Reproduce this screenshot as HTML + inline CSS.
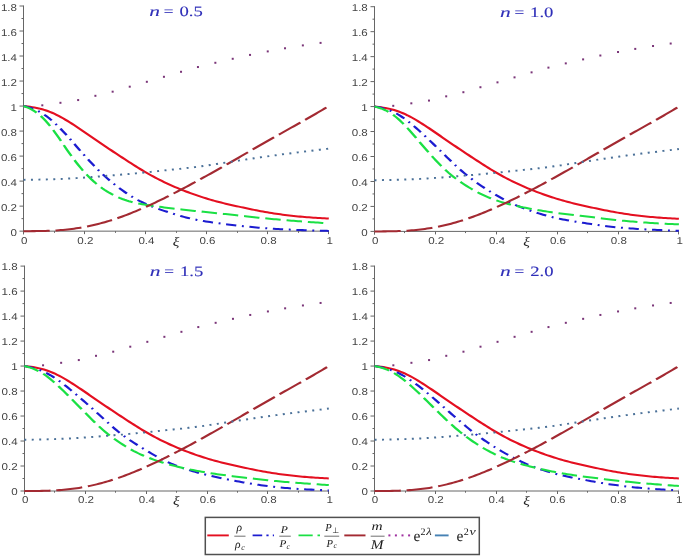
<!DOCTYPE html><html><head><meta charset="utf-8"><title>plot</title><style>html,body{margin:0;padding:0;background:#fff}svg{display:block}text{font-family:"Liberation Sans",sans-serif}text.s,.s text{font-family:"Liberation Serif",serif}</style></head><body>
<svg width="685" height="556" viewBox="0 0 685 556">
<rect width="100%" height="100%" fill="#fff"/><g style="will-change:transform;text-rendering:geometricPrecision">
<g stroke="#666" stroke-width="1" fill="none">
<path d="M23.50,5.50 V234.45"/>
<path d="M19.50,231.15 H329.00"/>
<path d="M23.50,218.64 h-2.00"/>
<path d="M23.50,206.13 h-4.00"/>
<path d="M23.50,193.62 h-2.00"/>
<path d="M23.50,181.12 h-4.00"/>
<path d="M23.50,168.61 h-2.00"/>
<path d="M23.50,156.10 h-4.00"/>
<path d="M23.50,143.59 h-2.00"/>
<path d="M23.50,131.08 h-4.00"/>
<path d="M23.50,118.58 h-2.00"/>
<path d="M23.50,106.07 h-4.00"/>
<path d="M23.50,93.56 h-2.00"/>
<path d="M23.50,81.05 h-4.00"/>
<path d="M23.50,68.54 h-2.00"/>
<path d="M23.50,56.03 h-4.00"/>
<path d="M23.50,43.53 h-2.00"/>
<path d="M23.50,31.02 h-4.00"/>
<path d="M23.50,18.51 h-2.00"/>
<path d="M23.50,6.00 h-4.00"/>
<path d="M54.50,231.15 v1.70"/>
<path d="M84.50,231.15 v3.00"/>
<path d="M115.50,231.15 v1.70"/>
<path d="M145.50,231.15 v3.00"/>
<path d="M176.50,231.15 v1.70"/>
<path d="M206.50,231.15 v3.00"/>
<path d="M237.50,231.15 v1.70"/>
<path d="M267.50,231.15 v3.00"/>
<path d="M298.50,231.15 v1.70"/>
<path d="M328.50,231.15 v3.00"/>
</g>
<g fill="#444" font-size="12.3">
<text transform="translate(17.00,235.70) scale(0.94,0.8104)" text-anchor="end">0</text>
<text transform="translate(17.00,210.68) scale(0.94,0.8104)" text-anchor="end">0.2</text>
<text transform="translate(17.00,185.67) scale(0.94,0.8104)" text-anchor="end">0.4</text>
<text transform="translate(17.00,160.65) scale(0.94,0.8104)" text-anchor="end">0.6</text>
<text transform="translate(17.00,135.63) scale(0.94,0.8104)" text-anchor="end">0.8</text>
<text transform="translate(17.00,110.62) scale(0.94,0.8104)" text-anchor="end">1</text>
<text transform="translate(17.00,85.60) scale(0.94,0.8104)" text-anchor="end">1.2</text>
<text transform="translate(17.00,60.58) scale(0.94,0.8104)" text-anchor="end">1.4</text>
<text transform="translate(17.00,35.57) scale(0.94,0.8104)" text-anchor="end">1.6</text>
<text transform="translate(17.00,10.55) scale(0.94,0.8104)" text-anchor="end">1.8</text>
<text transform="translate(24.30,243.95) scale(0.94,0.8104)" text-anchor="middle">0</text>
<text transform="translate(85.36,243.95) scale(0.94,0.8104)" text-anchor="middle">0.2</text>
<text transform="translate(146.42,243.95) scale(0.94,0.8104)" text-anchor="middle">0.4</text>
<text transform="translate(207.48,243.95) scale(0.94,0.8104)" text-anchor="middle">0.6</text>
<text transform="translate(268.54,243.95) scale(0.94,0.8104)" text-anchor="middle">0.8</text>
<text transform="translate(329.60,243.95) scale(0.94,0.8104)" text-anchor="middle">1</text>
</g>
<text transform="translate(175.95,245.55) scale(1,0.8104)" text-anchor="middle" font-size="15.5" font-style="italic" fill="#222" class="s">ξ</text>
<g fill="#2e2eb8" stroke="#2e2eb8" stroke-width="0.15" font-size="17.6" class="s">
<text transform="translate(149.35,15.80) scale(1.22,0.8104)" font-style="italic">n</text>
<text transform="translate(163.85,15.80) scale(0.98,0.8104)">=</text>
<text transform="translate(179.55,15.80) scale(1.06,0.8104)">0.5</text>
</g>
<g transform="scale(1,0.81037)" fill="none" stroke-width="2.5" stroke-linejoin="round">
<path d="M23.50,130.86 L25.70,131.15 L27.89,131.47 L30.09,131.81 L32.29,132.20 L34.48,132.65 L36.68,133.17 L38.87,133.77 L41.07,134.45 L43.27,135.21 L45.46,136.07 L47.66,137.01 L49.86,138.04 L52.05,139.15 L54.25,140.35 L56.45,141.63 L58.64,143.00 L60.84,144.44 L63.04,145.95 L65.23,147.53 L67.43,149.16 L69.62,150.83 L71.82,152.55 L74.02,154.30 L76.21,156.08 L78.41,157.89 L80.61,159.71 L82.80,161.56 L85.00,163.41 L87.20,165.27 L89.39,167.14 L91.59,169.01 L93.78,170.88 L95.98,172.75 L98.18,174.61 L100.37,176.46 L102.57,178.30 L104.77,180.14 L106.96,181.96 L109.16,183.78 L111.36,185.58 L113.55,187.38 L115.75,189.18 L117.95,190.97 L120.14,192.75 L122.34,194.53 L124.53,196.30 L126.73,198.06 L128.93,199.81 L131.12,201.55 L133.32,203.28 L135.52,204.99 L137.71,206.68 L139.91,208.35 L142.11,210.00 L144.30,211.61 L146.50,213.19 L148.69,214.74 L150.89,216.26 L153.09,217.74 L155.28,219.18 L157.48,220.59 L159.68,221.97 L161.87,223.32 L164.07,224.64 L166.27,225.93 L168.46,227.18 L170.66,228.41 L172.86,229.61 L175.05,230.79 L177.25,231.94 L179.44,233.06 L181.64,234.15 L183.84,235.22 L186.03,236.27 L188.23,237.29 L190.43,238.30 L192.62,239.27 L194.82,240.23 L197.02,241.17 L199.21,242.08 L201.41,242.97 L203.61,243.84 L205.80,244.69 L208.00,245.51 L210.19,246.31 L212.39,247.09 L214.59,247.85 L216.78,248.59 L218.98,249.30 L221.18,249.99 L223.37,250.66 L225.57,251.32 L227.77,251.96 L229.96,252.58 L232.16,253.20 L234.35,253.81 L236.55,254.41 L238.75,255.00 L240.94,255.59 L243.14,256.17 L245.34,256.75 L247.53,257.32 L249.73,257.88 L251.93,258.44 L254.12,258.99 L256.32,259.53 L258.52,260.06 L260.71,260.57 L262.91,261.07 L265.10,261.56 L267.30,262.02 L269.50,262.48 L271.69,262.91 L273.89,263.33 L276.09,263.74 L278.28,264.13 L280.48,264.51 L282.68,264.87 L284.87,265.22 L287.07,265.56 L289.26,265.88 L291.46,266.19 L293.66,266.49 L295.85,266.78 L298.05,267.05 L300.25,267.31 L302.44,267.55 L304.64,267.79 L306.84,268.01 L309.03,268.21 L311.23,268.41 L313.43,268.60 L315.62,268.77 L317.82,268.94 L320.01,269.09 L322.21,269.24 L324.41,269.39 L326.60,269.53 L328.80,269.67" stroke="#e40f20"/>
<path d="M23.50,130.81 L25.70,131.48 L27.89,132.20 L30.09,133.01 L32.29,133.92 L34.48,134.97 L36.68,136.17 L38.87,137.52 L41.07,139.03 L43.27,140.70 L45.46,142.53 L47.66,144.52 L49.86,146.66 L52.05,148.93 L54.25,151.32 L56.45,153.83 L58.64,156.45 L60.84,159.18 L63.04,161.99 L65.23,164.89 L67.43,167.86 L69.62,170.90 L71.82,173.99 L74.02,177.11 L76.21,180.24 L78.41,183.36 L80.61,186.46 L82.80,189.53 L85.00,192.57 L87.20,195.56 L89.39,198.50 L91.59,201.38 L93.78,204.20 L95.98,206.96 L98.18,209.65 L100.37,212.28 L102.57,214.84 L104.77,217.33 L106.96,219.75 L109.16,222.11 L111.36,224.39 L113.55,226.62 L115.75,228.78 L117.95,230.87 L120.14,232.90 L122.34,234.88 L124.53,236.79 L126.73,238.64 L128.93,240.41 L131.12,242.11 L133.32,243.74 L135.52,245.30 L137.71,246.79 L139.91,248.20 L142.11,249.54 L144.30,250.81 L146.50,252.01 L148.69,253.17 L150.89,254.27 L153.09,255.33 L155.28,256.36 L157.48,257.35 L159.68,258.31 L161.87,259.24 L164.07,260.15 L166.27,261.04 L168.46,261.92 L170.66,262.79 L172.86,263.64 L175.05,264.47 L177.25,265.28 L179.44,266.07 L181.64,266.84 L183.84,267.58 L186.03,268.29 L188.23,268.97 L190.43,269.62 L192.62,270.24 L194.82,270.83 L197.02,271.38 L199.21,271.90 L201.41,272.38 L203.61,272.84 L205.80,273.28 L208.00,273.69 L210.19,274.09 L212.39,274.48 L214.59,274.85 L216.78,275.22 L218.98,275.57 L221.18,275.92 L223.37,276.26 L225.57,276.60 L227.77,276.93 L229.96,277.25 L232.16,277.57 L234.35,277.88 L236.55,278.19 L238.75,278.50 L240.94,278.79 L243.14,279.08 L245.34,279.37 L247.53,279.65 L249.73,279.92 L251.93,280.18 L254.12,280.44 L256.32,280.69 L258.52,280.93 L260.71,281.16 L262.91,281.38 L265.10,281.59 L267.30,281.79 L269.50,281.98 L271.69,282.16 L273.89,282.33 L276.09,282.50 L278.28,282.65 L280.48,282.80 L282.68,282.94 L284.87,283.08 L287.07,283.21 L289.26,283.33 L291.46,283.45 L293.66,283.56 L295.85,283.67 L298.05,283.78 L300.25,283.88 L302.44,283.98 L304.64,284.08 L306.84,284.17 L309.03,284.25 L311.23,284.33 L313.43,284.41 L315.62,284.49 L317.82,284.56 L320.01,284.64 L322.21,284.71 L324.41,284.78 L326.60,284.86 L328.80,284.93" stroke="#1c1cd0" stroke-dasharray="10.3 5.65 1.95 5.65"/>
<path d="M23.50,130.76 L25.70,131.81 L27.89,132.91 L30.09,134.15 L32.29,135.56 L34.48,137.18 L36.68,139.04 L38.87,141.13 L41.07,143.47 L43.27,146.05 L45.46,148.87 L47.66,151.91 L49.86,155.15 L52.05,158.60 L54.25,162.21 L56.45,165.96 L58.64,169.82 L60.84,173.74 L63.04,177.71 L65.23,181.66 L67.43,185.57 L69.62,189.42 L71.82,193.17 L74.02,196.81 L76.21,200.35 L78.41,203.76 L80.61,207.05 L82.80,210.21 L85.00,213.23 L87.20,216.12 L89.39,218.86 L91.59,221.47 L93.78,223.95 L95.98,226.29 L98.18,228.50 L100.37,230.59 L102.57,232.56 L104.77,234.42 L106.96,236.16 L109.16,237.79 L111.36,239.32 L113.55,240.75 L115.75,242.08 L117.95,243.32 L120.14,244.47 L122.34,245.53 L124.53,246.52 L126.73,247.43 L128.93,248.26 L131.12,249.03 L133.32,249.73 L135.52,250.38 L137.71,250.97 L139.91,251.52 L142.11,252.02 L144.30,252.49 L146.50,252.93 L148.69,253.34 L150.89,253.74 L153.09,254.13 L155.28,254.50 L157.48,254.87 L159.68,255.23 L161.87,255.57 L164.07,255.92 L166.27,256.25 L168.46,256.58 L170.66,256.90 L172.86,257.22 L175.05,257.54 L177.25,257.85 L179.44,258.16 L181.64,258.46 L183.84,258.77 L186.03,259.07 L188.23,259.37 L190.43,259.66 L192.62,259.96 L194.82,260.25 L197.02,260.54 L199.21,260.83 L201.41,261.12 L203.61,261.41 L205.80,261.69 L208.00,261.98 L210.19,262.26 L212.39,262.54 L214.59,262.82 L216.78,263.09 L218.98,263.37 L221.18,263.65 L223.37,263.93 L225.57,264.22 L227.77,264.50 L229.96,264.79 L232.16,265.07 L234.35,265.36 L236.55,265.66 L238.75,265.95 L240.94,266.24 L243.14,266.54 L245.34,266.83 L247.53,267.13 L249.73,267.42 L251.93,267.71 L254.12,268.00 L256.32,268.28 L258.52,268.57 L260.71,268.85 L262.91,269.12 L265.10,269.39 L267.30,269.66 L269.50,269.93 L271.69,270.19 L273.89,270.44 L276.09,270.69 L278.28,270.94 L280.48,271.18 L282.68,271.42 L284.87,271.65 L287.07,271.88 L289.26,272.10 L291.46,272.32 L293.66,272.54 L295.85,272.75 L298.05,272.95 L300.25,273.16 L302.44,273.36 L304.64,273.55 L306.84,273.75 L309.03,273.94 L311.23,274.13 L313.43,274.31 L315.62,274.50 L317.82,274.68 L320.01,274.87 L322.21,275.05 L324.41,275.23 L326.60,275.41 L328.80,275.59" stroke="#1ae044" stroke-dasharray="15.5 5.9"/>
<path d="M23.50,285.24 L25.70,285.24 L27.89,285.24 L30.09,285.23 L32.29,285.22 L34.48,285.20 L36.68,285.18 L38.87,285.15 L41.07,285.10 L43.27,285.04 L45.46,284.97 L47.66,284.88 L49.86,284.77 L52.05,284.65 L54.25,284.51 L56.45,284.35 L58.64,284.16 L60.84,283.95 L63.04,283.72 L65.23,283.47 L67.43,283.19 L69.62,282.88 L71.82,282.55 L74.02,282.19 L76.21,281.80 L78.41,281.39 L80.61,280.95 L82.80,280.48 L85.00,279.98 L87.20,279.45 L89.39,278.89 L91.59,278.30 L93.78,277.69 L95.98,277.04 L98.18,276.37 L100.37,275.67 L102.57,274.94 L104.77,274.18 L106.96,273.39 L109.16,272.57 L111.36,271.73 L113.55,270.86 L115.75,269.96 L117.95,269.03 L120.14,268.08 L122.34,267.11 L124.53,266.11 L126.73,265.08 L128.93,264.03 L131.12,262.96 L133.32,261.87 L135.52,260.76 L137.71,259.63 L139.91,258.47 L142.11,257.30 L144.30,256.11 L146.50,254.91 L148.69,253.68 L150.89,252.44 L153.09,251.19 L155.28,249.91 L157.48,248.63 L159.68,247.33 L161.87,246.01 L164.07,244.68 L166.27,243.34 L168.46,241.98 L170.66,240.62 L172.86,239.24 L175.05,237.85 L177.25,236.45 L179.44,235.04 L181.64,233.62 L183.84,232.19 L186.03,230.75 L188.23,229.30 L190.43,227.85 L192.62,226.39 L194.82,224.92 L197.02,223.44 L199.21,221.96 L201.41,220.47 L203.61,218.97 L205.80,217.47 L208.00,215.97 L210.19,214.46 L212.39,212.94 L214.59,211.42 L216.78,209.90 L218.98,208.37 L221.18,206.83 L223.37,205.29 L225.57,203.75 L227.77,202.20 L229.96,200.65 L232.16,199.10 L234.35,197.54 L236.55,195.98 L238.75,194.42 L240.94,192.86 L243.14,191.29 L245.34,189.73 L247.53,188.17 L249.73,186.60 L251.93,185.04 L254.12,183.48 L256.32,181.93 L258.52,180.38 L260.71,178.83 L262.91,177.28 L265.10,175.74 L267.30,174.20 L269.50,172.66 L271.69,171.12 L273.89,169.59 L276.09,168.06 L278.28,166.53 L280.48,165.00 L282.68,163.48 L284.87,161.95 L287.07,160.43 L289.26,158.90 L291.46,157.38 L293.66,155.85 L295.85,154.33 L298.05,152.80 L300.25,151.27 L302.44,149.73 L304.64,148.20 L306.84,146.66 L309.03,145.11 L311.23,143.56 L313.43,142.00 L315.62,140.44 L317.82,138.87 L320.01,137.29 L322.21,135.70 L324.41,134.11 L326.60,132.50 L328.80,130.89" stroke="#a32a32" stroke-dasharray="26.2 5.8"/>
<path d="M23.50,221.96 L25.70,221.91 L27.89,221.87 L30.09,221.83 L32.29,221.78 L34.48,221.74 L36.68,221.69 L38.87,221.63 L41.07,221.58 L43.27,221.52 L45.46,221.45 L47.66,221.38 L49.86,221.30 L52.05,221.21 L54.25,221.12 L56.45,221.02 L58.64,220.91 L60.84,220.80 L63.04,220.68 L65.23,220.55 L67.43,220.41 L69.62,220.27 L71.82,220.12 L74.02,219.96 L76.21,219.80 L78.41,219.63 L80.61,219.46 L82.80,219.28 L85.00,219.09 L87.20,218.90 L89.39,218.70 L91.59,218.50 L93.78,218.29 L95.98,218.08 L98.18,217.86 L100.37,217.64 L102.57,217.42 L104.77,217.20 L106.96,216.98 L109.16,216.75 L111.36,216.53 L113.55,216.30 L115.75,216.08 L117.95,215.85 L120.14,215.62 L122.34,215.39 L124.53,215.16 L126.73,214.93 L128.93,214.69 L131.12,214.45 L133.32,214.20 L135.52,213.95 L137.71,213.70 L139.91,213.43 L142.11,213.17 L144.30,212.89 L146.50,212.62 L148.69,212.34 L150.89,212.06 L153.09,211.77 L155.28,211.48 L157.48,211.20 L159.68,210.91 L161.87,210.62 L164.07,210.33 L166.27,210.05 L168.46,209.76 L170.66,209.48 L172.86,209.20 L175.05,208.92 L177.25,208.64 L179.44,208.36 L181.64,208.08 L183.84,207.79 L186.03,207.49 L188.23,207.19 L190.43,206.88 L192.62,206.55 L194.82,206.22 L197.02,205.87 L199.21,205.51 L201.41,205.14 L203.61,204.76 L205.80,204.37 L208.00,203.97 L210.19,203.57 L212.39,203.16 L214.59,202.75 L216.78,202.33 L218.98,201.92 L221.18,201.50 L223.37,201.08 L225.57,200.67 L227.77,200.25 L229.96,199.84 L232.16,199.42 L234.35,199.01 L236.55,198.59 L238.75,198.18 L240.94,197.77 L243.14,197.36 L245.34,196.95 L247.53,196.54 L249.73,196.14 L251.93,195.73 L254.12,195.33 L256.32,194.93 L258.52,194.54 L260.71,194.14 L262.91,193.75 L265.10,193.37 L267.30,192.99 L269.50,192.61 L271.69,192.23 L273.89,191.86 L276.09,191.49 L278.28,191.13 L280.48,190.77 L282.68,190.41 L284.87,190.06 L287.07,189.71 L289.26,189.36 L291.46,189.02 L293.66,188.68 L295.85,188.34 L298.05,188.01 L300.25,187.67 L302.44,187.34 L304.64,187.01 L306.84,186.68 L309.03,186.35 L311.23,186.02 L313.43,185.69 L315.62,185.36 L317.82,185.03 L320.01,184.70 L322.21,184.37 L324.41,184.04 L326.60,183.70 L328.80,183.37" stroke="#4a7098" stroke-width="2.4" stroke-dasharray="2 5.45"/>
</g>
<g fill="#7a3578">
<rect x="41.31" y="104.32" width="2" height="2"/>
<rect x="59.44" y="101.81" width="2" height="2"/>
<rect x="77.15" y="99.06" width="2" height="2"/>
<rect x="94.40" y="94.81" width="2" height="2"/>
<rect x="111.65" y="90.68" width="2" height="2"/>
<rect x="128.74" y="85.68" width="2" height="2"/>
<rect x="145.84" y="80.80" width="2" height="2"/>
<rect x="162.94" y="75.80" width="2" height="2"/>
<rect x="180.03" y="70.79" width="2" height="2"/>
<rect x="196.95" y="66.04" width="2" height="2"/>
<rect x="214.35" y="61.79" width="2" height="2"/>
<rect x="231.72" y="57.79" width="2" height="2"/>
<rect x="249.03" y="53.91" width="2" height="2"/>
<rect x="266.74" y="50.41" width="2" height="2"/>
<rect x="284.02" y="47.28" width="2" height="2"/>
<rect x="301.85" y="44.40" width="2" height="2"/>
<rect x="319.56" y="41.90" width="2" height="2"/>
</g>
<g stroke="#666" stroke-width="1" fill="none">
<path d="M374.50,6.20 V234.70"/>
<path d="M370.50,231.40 H679.00"/>
<path d="M374.50,218.92 h-2.00"/>
<path d="M374.50,206.43 h-4.00"/>
<path d="M374.50,193.95 h-2.00"/>
<path d="M374.50,181.47 h-4.00"/>
<path d="M374.50,168.98 h-2.00"/>
<path d="M374.50,156.50 h-4.00"/>
<path d="M374.50,144.02 h-2.00"/>
<path d="M374.50,131.53 h-4.00"/>
<path d="M374.50,119.05 h-2.00"/>
<path d="M374.50,106.57 h-4.00"/>
<path d="M374.50,94.08 h-2.00"/>
<path d="M374.50,81.60 h-4.00"/>
<path d="M374.50,69.12 h-2.00"/>
<path d="M374.50,56.63 h-4.00"/>
<path d="M374.50,44.15 h-2.00"/>
<path d="M374.50,31.67 h-4.00"/>
<path d="M374.50,19.18 h-2.00"/>
<path d="M374.50,6.70 h-4.00"/>
<path d="M404.50,231.40 v1.70"/>
<path d="M435.50,231.40 v3.00"/>
<path d="M465.50,231.40 v1.70"/>
<path d="M496.50,231.40 v3.00"/>
<path d="M526.50,231.40 v1.70"/>
<path d="M557.50,231.40 v3.00"/>
<path d="M587.50,231.40 v1.70"/>
<path d="M618.50,231.40 v3.00"/>
<path d="M648.50,231.40 v1.70"/>
<path d="M678.50,231.40 v3.00"/>
</g>
<g fill="#444" font-size="12.3">
<text transform="translate(367.80,235.50) scale(0.94,0.8104)" text-anchor="end">0</text>
<text transform="translate(367.80,210.53) scale(0.94,0.8104)" text-anchor="end">0.2</text>
<text transform="translate(367.80,185.57) scale(0.94,0.8104)" text-anchor="end">0.4</text>
<text transform="translate(367.80,160.60) scale(0.94,0.8104)" text-anchor="end">0.6</text>
<text transform="translate(367.80,135.63) scale(0.94,0.8104)" text-anchor="end">0.8</text>
<text transform="translate(367.80,110.67) scale(0.94,0.8104)" text-anchor="end">1</text>
<text transform="translate(367.80,85.70) scale(0.94,0.8104)" text-anchor="end">1.2</text>
<text transform="translate(367.80,60.73) scale(0.94,0.8104)" text-anchor="end">1.4</text>
<text transform="translate(367.80,35.77) scale(0.94,0.8104)" text-anchor="end">1.6</text>
<text transform="translate(367.80,10.80) scale(0.94,0.8104)" text-anchor="end">1.8</text>
<text transform="translate(375.30,244.30) scale(0.94,0.8104)" text-anchor="middle">0</text>
<text transform="translate(436.18,244.30) scale(0.94,0.8104)" text-anchor="middle">0.2</text>
<text transform="translate(497.06,244.30) scale(0.94,0.8104)" text-anchor="middle">0.4</text>
<text transform="translate(557.94,244.30) scale(0.94,0.8104)" text-anchor="middle">0.6</text>
<text transform="translate(618.82,244.30) scale(0.94,0.8104)" text-anchor="middle">0.8</text>
<text transform="translate(679.70,244.30) scale(0.94,0.8104)" text-anchor="middle">1</text>
</g>
<text transform="translate(526.50,245.80) scale(1,0.8104)" text-anchor="middle" font-size="15.5" font-style="italic" fill="#222" class="s">ξ</text>
<g fill="#2e2eb8" stroke="#2e2eb8" stroke-width="0.15" font-size="17.6" class="s">
<text transform="translate(499.90,16.50) scale(1.22,0.8104)" font-style="italic">n</text>
<text transform="translate(514.40,16.50) scale(0.98,0.8104)">=</text>
<text transform="translate(530.10,16.50) scale(1.06,0.8104)">1.0</text>
</g>
<g transform="scale(1,0.81037)" fill="none" stroke-width="2.5" stroke-linejoin="round">
<path d="M374.50,131.48 L376.69,131.77 L378.88,132.08 L381.07,132.42 L383.26,132.81 L385.45,133.26 L387.64,133.78 L389.83,134.38 L392.02,135.06 L394.21,135.82 L396.40,136.67 L398.59,137.61 L400.78,138.64 L402.97,139.75 L405.16,140.95 L407.35,142.23 L409.54,143.59 L411.73,145.03 L413.92,146.54 L416.11,148.11 L418.30,149.74 L420.49,151.41 L422.68,153.13 L424.87,154.87 L427.06,156.65 L429.25,158.45 L431.44,160.27 L433.63,162.11 L435.82,163.96 L438.01,165.82 L440.20,167.69 L442.39,169.55 L444.58,171.42 L446.77,173.28 L448.96,175.14 L451.15,176.99 L453.34,178.83 L455.53,180.66 L457.72,182.48 L459.91,184.29 L462.10,186.09 L464.29,187.89 L466.48,189.68 L468.67,191.46 L470.86,193.24 L473.05,195.02 L475.24,196.78 L477.43,198.54 L479.62,200.29 L481.81,202.03 L484.00,203.75 L486.19,205.46 L488.38,207.15 L490.57,208.82 L492.76,210.46 L494.95,212.07 L497.14,213.65 L499.33,215.19 L501.52,216.70 L503.71,218.18 L505.90,219.62 L508.09,221.03 L510.28,222.41 L512.47,223.75 L514.66,225.07 L516.85,226.35 L519.04,227.61 L521.23,228.84 L523.42,230.03 L525.61,231.21 L527.79,232.35 L529.98,233.47 L532.17,234.56 L534.36,235.63 L536.55,236.68 L538.74,237.70 L540.93,238.70 L543.12,239.67 L545.31,240.63 L547.50,241.56 L549.69,242.47 L551.88,243.36 L554.07,244.23 L556.26,245.08 L558.45,245.90 L560.64,246.70 L562.83,247.48 L565.02,248.23 L567.21,248.97 L569.40,249.68 L571.59,250.37 L573.78,251.04 L575.97,251.69 L578.16,252.33 L580.35,252.96 L582.54,253.57 L584.73,254.18 L586.92,254.78 L589.11,255.37 L591.30,255.96 L593.49,256.54 L595.68,257.11 L597.87,257.68 L600.06,258.25 L602.25,258.80 L604.44,259.35 L606.63,259.89 L608.82,260.42 L611.01,260.93 L613.20,261.43 L615.39,261.91 L617.58,262.38 L619.77,262.83 L621.96,263.27 L624.15,263.69 L626.34,264.09 L628.53,264.48 L630.72,264.86 L632.91,265.22 L635.10,265.57 L637.29,265.91 L639.48,266.23 L641.67,266.54 L643.86,266.84 L646.05,267.12 L648.24,267.39 L650.43,267.65 L652.62,267.90 L654.81,268.13 L657.00,268.35 L659.19,268.56 L661.38,268.75 L663.57,268.94 L665.76,269.11 L667.95,269.28 L670.14,269.44 L672.33,269.59 L674.52,269.73 L676.71,269.87 L678.90,270.01" stroke="#e40f20"/>
<path d="M374.50,131.44 L376.69,131.93 L378.88,132.45 L381.07,133.03 L383.26,133.70 L385.45,134.47 L387.64,135.34 L389.83,136.33 L392.02,137.45 L394.21,138.71 L396.40,140.10 L398.59,141.64 L400.78,143.32 L402.97,145.11 L405.16,147.03 L407.35,149.05 L409.54,151.17 L411.73,153.36 L413.92,155.63 L416.11,157.96 L418.30,160.34 L420.49,162.76 L422.68,165.22 L424.87,167.72 L427.06,170.25 L429.25,172.80 L431.44,175.38 L433.63,177.99 L435.82,180.61 L438.01,183.24 L440.20,185.89 L442.39,188.53 L444.58,191.16 L446.77,193.79 L448.96,196.41 L451.15,199.00 L453.34,201.57 L455.53,204.10 L457.72,206.58 L459.91,209.00 L462.10,211.34 L464.29,213.62 L466.48,215.84 L468.67,217.99 L470.86,220.08 L473.05,222.12 L475.24,224.11 L477.43,226.05 L479.62,227.93 L481.81,229.76 L484.00,231.54 L486.19,233.29 L488.38,235.00 L490.57,236.67 L492.76,238.30 L494.95,239.90 L497.14,241.46 L499.33,242.99 L501.52,244.47 L503.71,245.92 L505.90,247.32 L508.09,248.67 L510.28,249.98 L512.47,251.25 L514.66,252.47 L516.85,253.64 L519.04,254.77 L521.23,255.85 L523.42,256.89 L525.61,257.89 L527.79,258.86 L529.98,259.79 L532.17,260.70 L534.36,261.59 L536.55,262.45 L538.74,263.30 L540.93,264.12 L543.12,264.91 L545.31,265.68 L547.50,266.41 L549.69,267.12 L551.88,267.80 L554.07,268.44 L556.26,269.06 L558.45,269.65 L560.64,270.21 L562.83,270.75 L565.02,271.26 L567.21,271.75 L569.40,272.22 L571.59,272.68 L573.78,273.13 L575.97,273.56 L578.16,273.99 L580.35,274.42 L582.54,274.84 L584.73,275.27 L586.92,275.70 L589.11,276.12 L591.30,276.54 L593.49,276.95 L595.68,277.35 L597.87,277.73 L600.06,278.11 L602.25,278.47 L604.44,278.81 L606.63,279.14 L608.82,279.45 L611.01,279.75 L613.20,280.03 L615.39,280.30 L617.58,280.57 L619.77,280.81 L621.96,281.05 L624.15,281.28 L626.34,281.50 L628.53,281.70 L630.72,281.90 L632.91,282.09 L635.10,282.28 L637.29,282.45 L639.48,282.62 L641.67,282.78 L643.86,282.94 L646.05,283.08 L648.24,283.22 L650.43,283.36 L652.62,283.49 L654.81,283.61 L657.00,283.74 L659.19,283.86 L661.38,283.97 L663.57,284.09 L665.76,284.20 L667.95,284.31 L670.14,284.42 L672.33,284.53 L674.52,284.63 L676.71,284.74 L678.90,284.84" stroke="#1c1cd0" stroke-dasharray="10.3 5.65 1.95 5.65"/>
<path d="M374.50,131.41 L376.69,132.15 L378.88,132.94 L381.07,133.83 L383.26,134.87 L385.45,136.06 L387.64,137.43 L389.83,138.99 L392.02,140.73 L394.21,142.68 L396.40,144.83 L398.59,147.17 L400.78,149.66 L402.97,152.31 L405.16,155.08 L407.35,157.96 L409.54,160.94 L411.73,163.99 L413.92,167.09 L416.11,170.23 L418.30,173.38 L420.49,176.54 L422.68,179.69 L424.87,182.81 L427.06,185.91 L429.25,188.98 L431.44,192.00 L433.63,194.97 L435.82,197.88 L438.01,200.72 L440.20,203.49 L442.39,206.16 L444.58,208.73 L446.77,211.20 L448.96,213.58 L451.15,215.85 L453.34,218.02 L455.53,220.11 L457.72,222.11 L459.91,224.04 L462.10,225.89 L464.29,227.67 L466.48,229.38 L468.67,231.04 L470.86,232.63 L473.05,234.18 L475.24,235.69 L477.43,237.14 L479.62,238.53 L481.81,239.86 L484.00,241.14 L486.19,242.36 L488.38,243.53 L490.57,244.64 L492.76,245.70 L494.95,246.70 L497.14,247.65 L499.33,248.55 L501.52,249.39 L503.71,250.18 L505.90,250.93 L508.09,251.64 L510.28,252.32 L512.47,252.97 L514.66,253.60 L516.85,254.20 L519.04,254.79 L521.23,255.36 L523.42,255.91 L525.61,256.44 L527.79,256.96 L529.98,257.47 L532.17,257.97 L534.36,258.45 L536.55,258.93 L538.74,259.40 L540.93,259.85 L543.12,260.30 L545.31,260.73 L547.50,261.15 L549.69,261.56 L551.88,261.95 L554.07,262.32 L556.26,262.68 L558.45,263.02 L560.64,263.35 L562.83,263.68 L565.02,263.99 L567.21,264.30 L569.40,264.61 L571.59,264.92 L573.78,265.23 L575.97,265.55 L578.16,265.87 L580.35,266.19 L582.54,266.52 L584.73,266.85 L586.92,267.20 L589.11,267.54 L591.30,267.89 L593.49,268.23 L595.68,268.58 L597.87,268.92 L600.06,269.26 L602.25,269.59 L604.44,269.92 L606.63,270.25 L608.82,270.56 L611.01,270.87 L613.20,271.17 L615.39,271.47 L617.58,271.75 L619.77,272.02 L621.96,272.29 L624.15,272.54 L626.34,272.78 L628.53,273.01 L630.72,273.24 L632.91,273.46 L635.10,273.67 L637.29,273.88 L639.48,274.09 L641.67,274.30 L643.86,274.50 L646.05,274.70 L648.24,274.89 L650.43,275.08 L652.62,275.26 L654.81,275.44 L657.00,275.60 L659.19,275.76 L661.38,275.90 L663.57,276.04 L665.76,276.17 L667.95,276.29 L670.14,276.41 L672.33,276.52 L674.52,276.62 L676.71,276.73 L678.90,276.83" stroke="#1ae044" stroke-dasharray="15.5 5.9"/>
<path d="M374.50,285.55 L376.69,285.55 L378.88,285.55 L381.07,285.54 L383.26,285.53 L385.45,285.51 L387.64,285.49 L389.83,285.45 L392.02,285.41 L394.21,285.35 L396.40,285.28 L398.59,285.19 L400.78,285.08 L402.97,284.96 L405.16,284.82 L407.35,284.66 L409.54,284.47 L411.73,284.26 L413.92,284.03 L416.11,283.78 L418.30,283.50 L420.49,283.19 L422.68,282.86 L424.87,282.50 L427.06,282.12 L429.25,281.71 L431.44,281.26 L433.63,280.79 L435.82,280.30 L438.01,279.77 L440.20,279.21 L442.39,278.63 L444.58,278.01 L446.77,277.37 L448.96,276.70 L451.15,276.00 L453.34,275.27 L455.53,274.51 L457.72,273.72 L459.91,272.91 L462.10,272.06 L464.29,271.19 L466.48,270.30 L468.67,269.37 L470.86,268.43 L473.05,267.45 L475.24,266.45 L477.43,265.43 L479.62,264.39 L481.81,263.32 L484.00,262.23 L486.19,261.12 L488.38,259.99 L490.57,258.84 L492.76,257.67 L494.95,256.48 L497.14,255.28 L499.33,254.05 L501.52,252.82 L503.71,251.56 L505.90,250.29 L508.09,249.01 L510.28,247.71 L512.47,246.40 L514.66,245.07 L516.85,243.73 L519.04,242.38 L521.23,241.02 L523.42,239.64 L525.61,238.25 L527.79,236.86 L529.98,235.45 L532.17,234.03 L534.36,232.60 L536.55,231.17 L538.74,229.72 L540.93,228.27 L543.12,226.81 L545.31,225.35 L547.50,223.87 L549.69,222.39 L551.88,220.91 L554.07,219.41 L556.26,217.92 L558.45,216.41 L560.64,214.91 L562.83,213.39 L565.02,211.88 L567.21,210.35 L569.40,208.83 L571.59,207.30 L573.78,205.76 L575.97,204.22 L578.16,202.68 L580.35,201.13 L582.54,199.58 L584.73,198.03 L586.92,196.47 L589.11,194.91 L591.30,193.35 L593.49,191.79 L595.68,190.23 L597.87,188.67 L600.06,187.11 L602.25,185.55 L604.44,184.00 L606.63,182.44 L608.82,180.89 L611.01,179.35 L613.20,177.80 L615.39,176.26 L617.58,174.73 L619.77,173.19 L621.96,171.66 L624.15,170.13 L626.34,168.60 L628.53,167.08 L630.72,165.55 L632.91,164.03 L635.10,162.51 L637.29,160.99 L639.48,159.46 L641.67,157.94 L643.86,156.42 L646.05,154.90 L648.24,153.37 L650.43,151.84 L652.62,150.31 L654.81,148.78 L657.00,147.24 L659.19,145.70 L661.38,144.15 L663.57,142.60 L665.76,141.04 L667.95,139.47 L670.14,137.89 L672.33,136.31 L674.52,134.72 L676.71,133.11 L678.90,131.50" stroke="#a32a32" stroke-dasharray="26.2 5.8"/>
<path d="M374.50,222.39 L376.69,222.35 L378.88,222.31 L381.07,222.26 L383.26,222.22 L385.45,222.17 L387.64,222.12 L389.83,222.07 L392.02,222.01 L394.21,221.95 L396.40,221.89 L398.59,221.81 L400.78,221.74 L402.97,221.65 L405.16,221.56 L407.35,221.46 L409.54,221.35 L411.73,221.24 L413.92,221.12 L416.11,220.99 L418.30,220.85 L420.49,220.71 L422.68,220.56 L424.87,220.40 L427.06,220.24 L429.25,220.07 L431.44,219.90 L433.63,219.72 L435.82,219.53 L438.01,219.34 L440.20,219.14 L442.39,218.94 L444.58,218.73 L446.77,218.52 L448.96,218.31 L451.15,218.09 L453.34,217.87 L455.53,217.65 L457.72,217.42 L459.91,217.20 L462.10,216.97 L464.29,216.75 L466.48,216.52 L468.67,216.30 L470.86,216.07 L473.05,215.84 L475.24,215.61 L477.43,215.38 L479.62,215.14 L481.81,214.90 L484.00,214.65 L486.19,214.40 L488.38,214.15 L490.57,213.89 L492.76,213.62 L494.95,213.35 L497.14,213.07 L499.33,212.79 L501.52,212.51 L503.71,212.23 L505.90,211.94 L508.09,211.65 L510.28,211.37 L512.47,211.08 L514.66,210.79 L516.85,210.51 L519.04,210.22 L521.23,209.94 L523.42,209.66 L525.61,209.38 L527.79,209.10 L529.98,208.82 L532.17,208.54 L534.36,208.25 L536.55,207.96 L538.74,207.65 L540.93,207.34 L543.12,207.02 L545.31,206.68 L547.50,206.34 L549.69,205.98 L551.88,205.61 L554.07,205.23 L556.26,204.84 L558.45,204.44 L560.64,204.04 L562.83,203.63 L565.02,203.22 L567.21,202.81 L569.40,202.39 L571.59,201.98 L573.78,201.56 L575.97,201.15 L578.16,200.73 L580.35,200.32 L582.54,199.90 L584.73,199.49 L586.92,199.07 L589.11,198.66 L591.30,198.25 L593.49,197.84 L595.68,197.43 L597.87,197.03 L600.06,196.62 L602.25,196.22 L604.44,195.82 L606.63,195.42 L608.82,195.03 L611.01,194.64 L613.20,194.25 L615.39,193.86 L617.58,193.48 L619.77,193.10 L621.96,192.73 L624.15,192.36 L626.34,191.99 L628.53,191.63 L630.72,191.27 L632.91,190.91 L635.10,190.56 L637.29,190.21 L639.48,189.86 L641.67,189.52 L643.86,189.18 L646.05,188.84 L648.24,188.51 L650.43,188.18 L652.62,187.84 L654.81,187.51 L657.00,187.19 L659.19,186.86 L661.38,186.53 L663.57,186.20 L665.76,185.87 L667.95,185.54 L670.14,185.21 L672.33,184.88 L674.52,184.55 L676.71,184.21 L678.90,183.88" stroke="#4a7098" stroke-width="2.4" stroke-dasharray="2 5.45"/>
</g>
<g fill="#7a3578">
<rect x="392.25" y="104.82" width="2" height="2"/>
<rect x="410.33" y="102.32" width="2" height="2"/>
<rect x="427.99" y="99.57" width="2" height="2"/>
<rect x="445.19" y="95.33" width="2" height="2"/>
<rect x="462.38" y="91.21" width="2" height="2"/>
<rect x="479.43" y="86.22" width="2" height="2"/>
<rect x="496.48" y="81.35" width="2" height="2"/>
<rect x="513.52" y="76.36" width="2" height="2"/>
<rect x="530.57" y="71.36" width="2" height="2"/>
<rect x="547.43" y="66.62" width="2" height="2"/>
<rect x="564.78" y="62.37" width="2" height="2"/>
<rect x="582.11" y="58.38" width="2" height="2"/>
<rect x="599.36" y="54.51" width="2" height="2"/>
<rect x="617.02" y="51.01" width="2" height="2"/>
<rect x="634.25" y="47.89" width="2" height="2"/>
<rect x="652.03" y="45.02" width="2" height="2"/>
<rect x="669.68" y="42.53" width="2" height="2"/>
</g>
<g stroke="#666" stroke-width="1" fill="none">
<path d="M24.50,265.60 V494.30"/>
<path d="M20.50,491.00 H329.00"/>
<path d="M24.50,478.51 h-2.00"/>
<path d="M24.50,466.01 h-4.00"/>
<path d="M24.50,453.52 h-2.00"/>
<path d="M24.50,441.02 h-4.00"/>
<path d="M24.50,428.53 h-2.00"/>
<path d="M24.50,416.03 h-4.00"/>
<path d="M24.50,403.54 h-2.00"/>
<path d="M24.50,391.04 h-4.00"/>
<path d="M24.50,378.55 h-2.00"/>
<path d="M24.50,366.06 h-4.00"/>
<path d="M24.50,353.56 h-2.00"/>
<path d="M24.50,341.07 h-4.00"/>
<path d="M24.50,328.57 h-2.00"/>
<path d="M24.50,316.08 h-4.00"/>
<path d="M24.50,303.58 h-2.00"/>
<path d="M24.50,291.09 h-4.00"/>
<path d="M24.50,278.59 h-2.00"/>
<path d="M24.50,266.10 h-4.00"/>
<path d="M54.50,491.00 v1.70"/>
<path d="M85.50,491.00 v3.00"/>
<path d="M115.50,491.00 v1.70"/>
<path d="M146.50,491.00 v3.00"/>
<path d="M176.50,491.00 v1.70"/>
<path d="M207.50,491.00 v3.00"/>
<path d="M237.50,491.00 v1.70"/>
<path d="M267.50,491.00 v3.00"/>
<path d="M298.50,491.00 v1.70"/>
<path d="M328.50,491.00 v3.00"/>
</g>
<g fill="#444" font-size="12.3">
<text transform="translate(17.60,495.25) scale(0.94,0.8104)" text-anchor="end">0</text>
<text transform="translate(17.60,470.26) scale(0.94,0.8104)" text-anchor="end">0.2</text>
<text transform="translate(17.60,445.27) scale(0.94,0.8104)" text-anchor="end">0.4</text>
<text transform="translate(17.60,420.28) scale(0.94,0.8104)" text-anchor="end">0.6</text>
<text transform="translate(17.60,395.29) scale(0.94,0.8104)" text-anchor="end">0.8</text>
<text transform="translate(17.60,370.31) scale(0.94,0.8104)" text-anchor="end">1</text>
<text transform="translate(17.60,345.32) scale(0.94,0.8104)" text-anchor="end">1.2</text>
<text transform="translate(17.60,320.33) scale(0.94,0.8104)" text-anchor="end">1.4</text>
<text transform="translate(17.60,295.34) scale(0.94,0.8104)" text-anchor="end">1.6</text>
<text transform="translate(17.60,270.35) scale(0.94,0.8104)" text-anchor="end">1.8</text>
<text transform="translate(25.10,503.30) scale(0.94,0.8104)" text-anchor="middle">0</text>
<text transform="translate(86.00,503.30) scale(0.94,0.8104)" text-anchor="middle">0.2</text>
<text transform="translate(146.90,503.30) scale(0.94,0.8104)" text-anchor="middle">0.4</text>
<text transform="translate(207.80,503.30) scale(0.94,0.8104)" text-anchor="middle">0.6</text>
<text transform="translate(268.70,503.30) scale(0.94,0.8104)" text-anchor="middle">0.8</text>
<text transform="translate(329.60,503.30) scale(0.94,0.8104)" text-anchor="middle">1</text>
</g>
<text transform="translate(176.35,505.40) scale(1,0.8104)" text-anchor="middle" font-size="15.5" font-style="italic" fill="#222" class="s">ξ</text>
<g fill="#2e2eb8" stroke="#2e2eb8" stroke-width="0.15" font-size="17.6" class="s">
<text transform="translate(149.75,275.90) scale(1.22,0.8104)" font-style="italic">n</text>
<text transform="translate(164.25,275.90) scale(0.98,0.8104)">=</text>
<text transform="translate(179.95,275.90) scale(1.06,0.8104)">1.5</text>
</g>
<g transform="scale(1,0.81037)" fill="none" stroke-width="2.5" stroke-linejoin="round">
<path d="M24.30,451.68 L26.49,451.98 L28.68,452.29 L30.87,452.63 L33.06,453.02 L35.25,453.47 L37.44,453.99 L39.63,454.59 L41.83,455.27 L44.02,456.03 L46.21,456.89 L48.40,457.83 L50.59,458.86 L52.78,459.97 L54.97,461.17 L57.16,462.45 L59.35,463.81 L61.54,465.25 L63.73,466.76 L65.92,468.34 L68.11,469.96 L70.30,471.64 L72.49,473.35 L74.68,475.10 L76.88,476.88 L79.07,478.68 L81.26,480.51 L83.45,482.35 L85.64,484.20 L87.83,486.06 L90.02,487.93 L92.21,489.79 L94.40,491.66 L96.59,493.52 L98.78,495.38 L100.97,497.24 L103.16,499.08 L105.35,500.91 L107.54,502.73 L109.74,504.54 L111.93,506.35 L114.12,508.15 L116.31,509.94 L118.50,511.73 L120.69,513.51 L122.88,515.28 L125.07,517.05 L127.26,518.81 L129.45,520.56 L131.64,522.30 L133.83,524.03 L136.02,525.74 L138.21,527.43 L140.40,529.09 L142.59,530.74 L144.79,532.35 L146.98,533.93 L149.17,535.48 L151.36,536.99 L153.55,538.47 L155.74,539.91 L157.93,541.32 L160.12,542.70 L162.31,544.04 L164.50,545.36 L166.69,546.65 L168.88,547.90 L171.07,549.13 L173.26,550.33 L175.45,551.50 L177.65,552.65 L179.84,553.77 L182.03,554.86 L184.22,555.93 L186.41,556.98 L188.60,558.00 L190.79,559.00 L192.98,559.98 L195.17,560.94 L197.36,561.87 L199.55,562.78 L201.74,563.67 L203.93,564.54 L206.12,565.39 L208.31,566.21 L210.51,567.01 L212.70,567.79 L214.89,568.55 L217.08,569.28 L219.27,569.99 L221.46,570.68 L223.65,571.36 L225.84,572.01 L228.03,572.65 L230.22,573.27 L232.41,573.89 L234.60,574.50 L236.79,575.10 L238.98,575.69 L241.17,576.28 L243.36,576.86 L245.56,577.43 L247.75,578.00 L249.94,578.57 L252.13,579.13 L254.32,579.68 L256.51,580.22 L258.70,580.74 L260.89,581.26 L263.08,581.75 L265.27,582.24 L267.46,582.70 L269.65,583.16 L271.84,583.59 L274.03,584.01 L276.22,584.42 L278.42,584.81 L280.61,585.19 L282.80,585.55 L284.99,585.90 L287.18,586.24 L289.37,586.56 L291.56,586.87 L293.75,587.17 L295.94,587.45 L298.13,587.72 L300.32,587.98 L302.51,588.23 L304.70,588.46 L306.89,588.68 L309.08,588.89 L311.27,589.08 L313.47,589.27 L315.66,589.44 L317.85,589.61 L320.04,589.77 L322.23,589.92 L324.42,590.06 L326.61,590.20 L328.80,590.34" stroke="#e40f20"/>
<path d="M24.30,451.66 L26.49,452.17 L28.68,452.71 L30.87,453.31 L33.06,453.99 L35.25,454.76 L37.44,455.63 L39.63,456.60 L41.83,457.67 L44.02,458.86 L46.21,460.17 L48.40,461.60 L50.59,463.14 L52.78,464.79 L54.97,466.54 L57.16,468.37 L59.35,470.29 L61.54,472.28 L63.73,474.34 L65.92,476.45 L68.11,478.60 L70.30,480.79 L72.49,483.02 L74.68,485.28 L76.88,487.57 L79.07,489.88 L81.26,492.21 L83.45,494.55 L85.64,496.91 L87.83,499.28 L90.02,501.67 L92.21,504.06 L94.40,506.48 L96.59,508.92 L98.78,511.37 L100.97,513.82 L103.16,516.29 L105.35,518.74 L107.54,521.20 L109.74,523.63 L111.93,526.03 L114.12,528.39 L116.31,530.70 L118.50,532.93 L120.69,535.08 L122.88,537.12 L125.07,539.08 L127.26,540.97 L129.45,542.81 L131.64,544.60 L133.83,546.35 L136.02,548.08 L138.21,549.77 L140.40,551.45 L142.59,553.11 L144.79,554.76 L146.98,556.39 L149.17,558.00 L151.36,559.58 L153.55,561.14 L155.74,562.66 L157.93,564.15 L160.12,565.59 L162.31,566.99 L164.50,568.33 L166.69,569.63 L168.88,570.87 L171.07,572.05 L173.26,573.18 L175.45,574.27 L177.65,575.31 L179.84,576.31 L182.03,577.27 L184.22,578.19 L186.41,579.08 L188.60,579.94 L190.79,580.77 L192.98,581.57 L195.17,582.34 L197.36,583.09 L199.55,583.81 L201.74,584.52 L203.93,585.21 L206.12,585.88 L208.31,586.53 L210.51,587.17 L212.70,587.79 L214.89,588.39 L217.08,588.98 L219.27,589.55 L221.46,590.11 L223.65,590.66 L225.84,591.19 L228.03,591.72 L230.22,592.24 L232.41,592.76 L234.60,593.28 L236.79,593.79 L238.98,594.30 L241.17,594.80 L243.36,595.29 L245.56,595.77 L247.75,596.24 L249.94,596.68 L252.13,597.11 L254.32,597.52 L256.51,597.92 L258.70,598.30 L260.89,598.68 L263.08,599.04 L265.27,599.40 L267.46,599.74 L269.65,600.07 L271.84,600.40 L274.03,600.70 L276.22,601.00 L278.42,601.28 L280.61,601.55 L282.80,601.81 L284.99,602.05 L287.18,602.29 L289.37,602.51 L291.56,602.73 L293.75,602.93 L295.94,603.12 L298.13,603.31 L300.32,603.48 L302.51,603.64 L304.70,603.80 L306.89,603.94 L309.08,604.08 L311.27,604.21 L313.47,604.34 L315.66,604.47 L317.85,604.59 L320.04,604.71 L322.23,604.83 L324.42,604.95 L326.61,605.07 L328.80,605.19" stroke="#1c1cd0" stroke-dasharray="10.3 5.65 1.95 5.65"/>
<path d="M24.30,451.63 L26.49,452.33 L28.68,453.09 L30.87,453.93 L33.06,454.89 L35.25,455.99 L37.44,457.23 L39.63,458.63 L41.83,460.19 L44.02,461.92 L46.21,463.80 L48.40,465.84 L50.59,468.00 L52.78,470.27 L54.97,472.64 L57.16,475.08 L59.35,477.58 L61.54,480.14 L63.73,482.73 L65.92,485.37 L68.11,488.03 L70.30,490.72 L72.49,493.42 L74.68,496.15 L76.88,498.89 L79.07,501.64 L81.26,504.40 L83.45,507.17 L85.64,509.94 L87.83,512.69 L90.02,515.42 L92.21,518.11 L94.40,520.76 L96.59,523.36 L98.78,525.90 L100.97,528.36 L103.16,530.75 L105.35,533.06 L107.54,535.28 L109.74,537.41 L111.93,539.47 L114.12,541.44 L116.31,543.35 L118.50,545.19 L120.69,546.98 L122.88,548.72 L125.07,550.42 L127.26,552.07 L129.45,553.66 L131.64,555.17 L133.83,556.62 L136.02,558.00 L138.21,559.32 L140.40,560.58 L142.59,561.78 L144.79,562.94 L146.98,564.05 L149.17,565.12 L151.36,566.14 L153.55,567.12 L155.74,568.07 L157.93,568.97 L160.12,569.85 L162.31,570.69 L164.50,571.50 L166.69,572.28 L168.88,573.05 L171.07,573.78 L173.26,574.50 L175.45,575.19 L177.65,575.87 L179.84,576.52 L182.03,577.16 L184.22,577.78 L186.41,578.38 L188.60,578.96 L190.79,579.53 L192.98,580.07 L195.17,580.60 L197.36,581.11 L199.55,581.61 L201.74,582.10 L203.93,582.57 L206.12,583.03 L208.31,583.48 L210.51,583.92 L212.70,584.34 L214.89,584.75 L217.08,585.15 L219.27,585.54 L221.46,585.91 L223.65,586.26 L225.84,586.61 L228.03,586.94 L230.22,587.27 L232.41,587.60 L234.60,587.93 L236.79,588.26 L238.98,588.59 L241.17,588.92 L243.36,589.24 L245.56,589.57 L247.75,589.89 L249.94,590.21 L252.13,590.52 L254.32,590.83 L256.51,591.14 L258.70,591.44 L260.89,591.73 L263.08,592.03 L265.27,592.31 L267.46,592.60 L269.65,592.88 L271.84,593.15 L274.03,593.42 L276.22,593.68 L278.42,593.93 L280.61,594.17 L282.80,594.41 L284.99,594.65 L287.18,594.88 L289.37,595.10 L291.56,595.32 L293.75,595.53 L295.94,595.74 L298.13,595.95 L300.32,596.16 L302.51,596.36 L304.70,596.56 L306.89,596.75 L309.08,596.94 L311.27,597.13 L313.47,597.32 L315.66,597.50 L317.85,597.69 L320.04,597.88 L322.23,598.07 L324.42,598.26 L326.61,598.44 L328.80,598.63" stroke="#1ae044" stroke-dasharray="15.5 5.9"/>
<path d="M24.30,605.89 L26.49,605.89 L28.68,605.89 L30.87,605.89 L33.06,605.88 L35.25,605.86 L37.44,605.83 L39.63,605.80 L41.83,605.75 L44.02,605.70 L46.21,605.62 L48.40,605.54 L50.59,605.43 L52.78,605.31 L54.97,605.16 L57.16,605.00 L59.35,604.82 L61.54,604.61 L63.73,604.38 L65.92,604.12 L68.11,603.84 L70.30,603.54 L72.49,603.21 L74.68,602.85 L76.88,602.46 L79.07,602.05 L81.26,601.61 L83.45,601.14 L85.64,600.64 L87.83,600.11 L90.02,599.55 L92.21,598.97 L94.40,598.35 L96.59,597.71 L98.78,597.04 L100.97,596.33 L103.16,595.60 L105.35,594.84 L107.54,594.06 L109.74,593.24 L111.93,592.40 L114.12,591.53 L116.31,590.63 L118.50,589.71 L120.69,588.76 L122.88,587.78 L125.07,586.78 L127.26,585.76 L129.45,584.71 L131.64,583.64 L133.83,582.55 L136.02,581.44 L138.21,580.31 L140.40,579.16 L142.59,577.99 L144.79,576.80 L146.98,575.59 L149.17,574.37 L151.36,573.13 L153.55,571.88 L155.74,570.61 L157.93,569.32 L160.12,568.02 L162.31,566.71 L164.50,565.38 L166.69,564.04 L168.88,562.69 L171.07,561.32 L173.26,559.95 L175.45,558.56 L177.65,557.16 L179.84,555.75 L182.03,554.33 L184.22,552.90 L186.41,551.47 L188.60,550.02 L190.79,548.57 L192.98,547.11 L195.17,545.64 L197.36,544.16 L199.55,542.68 L201.74,541.19 L203.93,539.70 L206.12,538.20 L208.31,536.70 L210.51,535.19 L212.70,533.68 L214.89,532.16 L217.08,530.63 L219.27,529.11 L221.46,527.57 L223.65,526.04 L225.84,524.50 L228.03,522.95 L230.22,521.40 L232.41,519.85 L234.60,518.29 L236.79,516.74 L238.98,515.18 L241.17,513.61 L243.36,512.05 L245.56,510.49 L247.75,508.93 L249.94,507.37 L252.13,505.81 L254.32,504.25 L256.51,502.70 L258.70,501.15 L260.89,499.60 L263.08,498.06 L265.27,496.51 L267.46,494.98 L269.65,493.44 L271.84,491.91 L274.03,490.37 L276.22,488.85 L278.42,487.32 L280.61,485.79 L282.80,484.27 L284.99,482.74 L287.18,481.22 L289.37,479.70 L291.56,478.17 L293.75,476.65 L295.94,475.13 L298.13,473.60 L300.32,472.07 L302.51,470.54 L304.70,469.00 L306.89,467.46 L309.08,465.92 L311.27,464.37 L313.47,462.82 L315.66,461.25 L317.85,459.69 L320.04,458.11 L322.23,456.52 L324.42,454.93 L326.61,453.32 L328.80,451.71" stroke="#a32a32" stroke-dasharray="26.2 5.8"/>
<path d="M24.30,542.68 L26.49,542.64 L28.68,542.60 L30.87,542.55 L33.06,542.51 L35.25,542.46 L37.44,542.41 L39.63,542.36 L41.83,542.30 L44.02,542.24 L46.21,542.17 L48.40,542.10 L50.59,542.02 L52.78,541.94 L54.97,541.85 L57.16,541.75 L59.35,541.64 L61.54,541.53 L63.73,541.40 L65.92,541.28 L68.11,541.14 L70.30,541.00 L72.49,540.85 L74.68,540.69 L76.88,540.53 L79.07,540.36 L81.26,540.19 L83.45,540.00 L85.64,539.82 L87.83,539.62 L90.02,539.43 L92.21,539.22 L94.40,539.02 L96.59,538.81 L98.78,538.59 L100.97,538.37 L103.16,538.15 L105.35,537.93 L107.54,537.71 L109.74,537.48 L111.93,537.26 L114.12,537.03 L116.31,536.81 L118.50,536.58 L120.69,536.35 L122.88,536.13 L125.07,535.90 L127.26,535.66 L129.45,535.42 L131.64,535.18 L133.83,534.94 L136.02,534.69 L138.21,534.43 L140.40,534.17 L142.59,533.90 L144.79,533.63 L146.98,533.35 L149.17,533.07 L151.36,532.79 L153.55,532.51 L155.74,532.22 L157.93,531.93 L160.12,531.65 L162.31,531.36 L164.50,531.07 L166.69,530.79 L168.88,530.50 L171.07,530.22 L173.26,529.94 L175.45,529.66 L177.65,529.38 L179.84,529.10 L182.03,528.82 L184.22,528.53 L186.41,528.23 L188.60,527.93 L190.79,527.62 L192.98,527.29 L195.17,526.96 L197.36,526.61 L199.55,526.25 L201.74,525.88 L203.93,525.50 L206.12,525.11 L208.31,524.72 L210.51,524.32 L212.70,523.91 L214.89,523.50 L217.08,523.08 L219.27,522.67 L221.46,522.25 L223.65,521.83 L225.84,521.42 L228.03,521.00 L230.22,520.59 L232.41,520.17 L234.60,519.76 L236.79,519.34 L238.98,518.93 L241.17,518.52 L243.36,518.11 L245.56,517.70 L247.75,517.30 L249.94,516.89 L252.13,516.49 L254.32,516.09 L256.51,515.69 L258.70,515.29 L260.89,514.90 L263.08,514.51 L265.27,514.13 L267.46,513.74 L269.65,513.36 L271.84,512.99 L274.03,512.62 L276.22,512.25 L278.42,511.89 L280.61,511.53 L282.80,511.17 L284.99,510.82 L287.18,510.47 L289.37,510.13 L291.56,509.78 L293.75,509.44 L295.94,509.10 L298.13,508.77 L300.32,508.44 L302.51,508.10 L304.70,507.77 L306.89,507.44 L309.08,507.12 L311.27,506.79 L313.47,506.46 L315.66,506.13 L317.85,505.80 L320.04,505.47 L322.23,505.14 L324.42,504.80 L326.61,504.47 L328.80,504.14" stroke="#4a7098" stroke-width="2.4" stroke-dasharray="2 5.45"/>
</g>
<g fill="#7a3578">
<rect x="42.06" y="364.31" width="2" height="2"/>
<rect x="60.14" y="361.81" width="2" height="2"/>
<rect x="77.81" y="359.06" width="2" height="2"/>
<rect x="95.01" y="354.81" width="2" height="2"/>
<rect x="112.21" y="350.69" width="2" height="2"/>
<rect x="129.27" y="345.69" width="2" height="2"/>
<rect x="146.32" y="340.82" width="2" height="2"/>
<rect x="163.37" y="335.82" width="2" height="2"/>
<rect x="180.42" y="330.82" width="2" height="2"/>
<rect x="197.29" y="326.07" width="2" height="2"/>
<rect x="214.65" y="321.82" width="2" height="2"/>
<rect x="231.97" y="317.83" width="2" height="2"/>
<rect x="249.24" y="313.95" width="2" height="2"/>
<rect x="266.90" y="310.45" width="2" height="2"/>
<rect x="284.13" y="307.33" width="2" height="2"/>
<rect x="301.92" y="304.46" width="2" height="2"/>
<rect x="319.58" y="301.96" width="2" height="2"/>
</g>
<g stroke="#666" stroke-width="1" fill="none">
<path d="M374.50,265.60 V494.30"/>
<path d="M370.50,491.00 H679.00"/>
<path d="M374.50,478.51 h-2.00"/>
<path d="M374.50,466.01 h-4.00"/>
<path d="M374.50,453.52 h-2.00"/>
<path d="M374.50,441.02 h-4.00"/>
<path d="M374.50,428.53 h-2.00"/>
<path d="M374.50,416.03 h-4.00"/>
<path d="M374.50,403.54 h-2.00"/>
<path d="M374.50,391.04 h-4.00"/>
<path d="M374.50,378.55 h-2.00"/>
<path d="M374.50,366.06 h-4.00"/>
<path d="M374.50,353.56 h-2.00"/>
<path d="M374.50,341.07 h-4.00"/>
<path d="M374.50,328.57 h-2.00"/>
<path d="M374.50,316.08 h-4.00"/>
<path d="M374.50,303.58 h-2.00"/>
<path d="M374.50,291.09 h-4.00"/>
<path d="M374.50,278.59 h-2.00"/>
<path d="M374.50,266.10 h-4.00"/>
<path d="M405.50,491.00 v1.70"/>
<path d="M435.50,491.00 v3.00"/>
<path d="M465.50,491.00 v1.70"/>
<path d="M496.50,491.00 v3.00"/>
<path d="M526.50,491.00 v1.70"/>
<path d="M557.50,491.00 v3.00"/>
<path d="M587.50,491.00 v1.70"/>
<path d="M618.50,491.00 v3.00"/>
<path d="M648.50,491.00 v1.70"/>
<path d="M678.50,491.00 v3.00"/>
</g>
<g fill="#444" font-size="12.3">
<text transform="translate(367.85,495.25) scale(0.94,0.8104)" text-anchor="end">0</text>
<text transform="translate(367.85,470.26) scale(0.94,0.8104)" text-anchor="end">0.2</text>
<text transform="translate(367.85,445.27) scale(0.94,0.8104)" text-anchor="end">0.4</text>
<text transform="translate(367.85,420.28) scale(0.94,0.8104)" text-anchor="end">0.6</text>
<text transform="translate(367.85,395.29) scale(0.94,0.8104)" text-anchor="end">0.8</text>
<text transform="translate(367.85,370.31) scale(0.94,0.8104)" text-anchor="end">1</text>
<text transform="translate(367.85,345.32) scale(0.94,0.8104)" text-anchor="end">1.2</text>
<text transform="translate(367.85,320.33) scale(0.94,0.8104)" text-anchor="end">1.4</text>
<text transform="translate(367.85,295.34) scale(0.94,0.8104)" text-anchor="end">1.6</text>
<text transform="translate(367.85,270.35) scale(0.94,0.8104)" text-anchor="end">1.8</text>
<text transform="translate(374.90,503.30) scale(0.94,0.8104)" text-anchor="middle">0</text>
<text transform="translate(435.76,503.30) scale(0.94,0.8104)" text-anchor="middle">0.2</text>
<text transform="translate(496.62,503.30) scale(0.94,0.8104)" text-anchor="middle">0.4</text>
<text transform="translate(557.48,503.30) scale(0.94,0.8104)" text-anchor="middle">0.6</text>
<text transform="translate(618.34,503.30) scale(0.94,0.8104)" text-anchor="middle">0.8</text>
<text transform="translate(679.20,503.30) scale(0.94,0.8104)" text-anchor="middle">1</text>
</g>
<text transform="translate(526.55,505.40) scale(1,0.8104)" text-anchor="middle" font-size="15.5" font-style="italic" fill="#222" class="s">ξ</text>
<g fill="#2e2eb8" stroke="#2e2eb8" stroke-width="0.15" font-size="17.6" class="s">
<text transform="translate(499.95,275.90) scale(1.22,0.8104)" font-style="italic">n</text>
<text transform="translate(514.45,275.90) scale(0.98,0.8104)">=</text>
<text transform="translate(530.15,275.90) scale(1.06,0.8104)">2.0</text>
</g>
<g transform="scale(1,0.81037)" fill="none" stroke-width="2.5" stroke-linejoin="round">
<path d="M374.60,451.68 L376.79,451.98 L378.98,452.29 L381.17,452.63 L383.36,453.02 L385.55,453.47 L387.74,453.99 L389.92,454.59 L392.11,455.27 L394.30,456.03 L396.49,456.89 L398.68,457.83 L400.87,458.86 L403.06,459.97 L405.25,461.17 L407.44,462.45 L409.63,463.81 L411.82,465.25 L414.01,466.76 L416.19,468.34 L418.38,469.96 L420.57,471.64 L422.76,473.35 L424.95,475.10 L427.14,476.88 L429.33,478.68 L431.52,480.51 L433.71,482.35 L435.90,484.20 L438.09,486.06 L440.28,487.93 L442.47,489.79 L444.65,491.66 L446.84,493.52 L449.03,495.38 L451.22,497.24 L453.41,499.08 L455.60,500.91 L457.79,502.73 L459.98,504.54 L462.17,506.35 L464.36,508.15 L466.55,509.94 L468.74,511.73 L470.93,513.51 L473.11,515.28 L475.30,517.05 L477.49,518.81 L479.68,520.56 L481.87,522.30 L484.06,524.03 L486.25,525.74 L488.44,527.43 L490.63,529.09 L492.82,530.74 L495.01,532.35 L497.20,533.93 L499.38,535.48 L501.57,536.99 L503.76,538.47 L505.95,539.91 L508.14,541.32 L510.33,542.70 L512.52,544.04 L514.71,545.36 L516.90,546.65 L519.09,547.90 L521.28,549.13 L523.47,550.33 L525.66,551.50 L527.84,552.65 L530.03,553.77 L532.22,554.86 L534.41,555.93 L536.60,556.98 L538.79,558.00 L540.98,559.00 L543.17,559.98 L545.36,560.94 L547.55,561.87 L549.74,562.78 L551.93,563.67 L554.12,564.54 L556.30,565.39 L558.49,566.21 L560.68,567.01 L562.87,567.79 L565.06,568.55 L567.25,569.28 L569.44,569.99 L571.63,570.68 L573.82,571.36 L576.01,572.01 L578.20,572.65 L580.39,573.27 L582.57,573.89 L584.76,574.50 L586.95,575.10 L589.14,575.69 L591.33,576.28 L593.52,576.86 L595.71,577.43 L597.90,578.00 L600.09,578.57 L602.28,579.13 L604.47,579.68 L606.66,580.22 L608.85,580.74 L611.03,581.26 L613.22,581.75 L615.41,582.24 L617.60,582.70 L619.79,583.16 L621.98,583.59 L624.17,584.01 L626.36,584.42 L628.55,584.81 L630.74,585.19 L632.93,585.55 L635.12,585.90 L637.31,586.24 L639.49,586.56 L641.68,586.87 L643.87,587.17 L646.06,587.45 L648.25,587.72 L650.44,587.98 L652.63,588.23 L654.82,588.46 L657.01,588.68 L659.20,588.89 L661.39,589.08 L663.58,589.27 L665.76,589.44 L667.95,589.61 L670.14,589.77 L672.33,589.92 L674.52,590.06 L676.71,590.20 L678.90,590.34" stroke="#e40f20"/>
<path d="M374.60,451.66 L376.79,452.13 L378.98,452.62 L381.17,453.16 L383.36,453.77 L385.55,454.46 L387.74,455.23 L389.92,456.09 L392.11,457.05 L394.30,458.11 L396.49,459.27 L398.68,460.54 L400.87,461.91 L403.06,463.39 L405.25,464.97 L407.44,466.64 L409.63,468.38 L411.82,470.21 L414.01,472.11 L416.19,474.09 L418.38,476.12 L420.57,478.21 L422.76,480.36 L424.95,482.55 L427.14,484.79 L429.33,487.05 L431.52,489.34 L433.71,491.64 L435.90,493.96 L438.09,496.30 L440.28,498.65 L442.47,501.02 L444.65,503.39 L446.84,505.77 L449.03,508.14 L451.22,510.50 L453.41,512.85 L455.60,515.19 L457.79,517.53 L459.98,519.86 L462.17,522.18 L464.36,524.48 L466.55,526.74 L468.74,528.96 L470.93,531.13 L473.11,533.25 L475.30,535.32 L477.49,537.34 L479.68,539.31 L481.87,541.23 L484.06,543.10 L486.25,544.92 L488.44,546.71 L490.63,548.47 L492.82,550.21 L495.01,551.91 L497.20,553.58 L499.38,555.22 L501.57,556.81 L503.76,558.36 L505.95,559.88 L508.14,561.36 L510.33,562.81 L512.52,564.24 L514.71,565.64 L516.90,567.02 L519.09,568.35 L521.28,569.65 L523.47,570.90 L525.66,572.10 L527.84,573.26 L530.03,574.37 L532.22,575.44 L534.41,576.47 L536.60,577.46 L538.79,578.41 L540.98,579.33 L543.17,580.20 L545.36,581.05 L547.55,581.86 L549.74,582.64 L551.93,583.39 L554.12,584.11 L556.30,584.82 L558.49,585.50 L560.68,586.15 L562.87,586.79 L565.06,587.41 L567.25,588.01 L569.44,588.59 L571.63,589.15 L573.82,589.69 L576.01,590.22 L578.20,590.74 L580.39,591.25 L582.57,591.76 L584.76,592.26 L586.95,592.77 L589.14,593.27 L591.33,593.77 L593.52,594.27 L595.71,594.76 L597.90,595.23 L600.09,595.70 L602.28,596.15 L604.47,596.59 L606.66,597.01 L608.85,597.42 L611.03,597.82 L613.22,598.20 L615.41,598.57 L617.60,598.94 L619.79,599.29 L621.98,599.64 L624.17,599.98 L626.36,600.30 L628.55,600.61 L630.74,600.91 L632.93,601.20 L635.12,601.47 L637.31,601.73 L639.49,601.98 L641.68,602.22 L643.87,602.45 L646.06,602.67 L648.25,602.88 L650.44,603.08 L652.63,603.27 L654.82,603.45 L657.01,603.62 L659.20,603.79 L661.39,603.95 L663.58,604.10 L665.76,604.24 L667.95,604.38 L670.14,604.51 L672.33,604.64 L674.52,604.76 L676.71,604.87 L678.90,604.99" stroke="#1c1cd0" stroke-dasharray="10.3 5.65 1.95 5.65"/>
<path d="M374.60,451.64 L376.79,452.25 L378.98,452.91 L381.17,453.64 L383.36,454.48 L385.55,455.43 L387.74,456.52 L389.92,457.74 L392.11,459.10 L394.30,460.62 L396.49,462.28 L398.68,464.08 L400.87,466.01 L403.06,468.05 L405.25,470.20 L407.44,472.43 L409.63,474.74 L411.82,477.12 L414.01,479.56 L416.19,482.04 L418.38,484.57 L420.57,487.15 L422.76,489.75 L424.95,492.38 L427.14,495.03 L429.33,497.69 L431.52,500.37 L433.71,503.05 L435.90,505.72 L438.09,508.38 L440.28,511.00 L442.47,513.59 L444.65,516.15 L446.84,518.68 L449.03,521.17 L451.22,523.63 L453.41,526.04 L455.60,528.40 L457.79,530.71 L459.98,532.95 L462.17,535.12 L464.36,537.22 L466.55,539.25 L468.74,541.21 L470.93,543.11 L473.11,544.95 L475.30,546.74 L477.49,548.48 L479.68,550.17 L481.87,551.82 L484.06,553.41 L486.25,554.95 L488.44,556.44 L490.63,557.88 L492.82,559.26 L495.01,560.60 L497.20,561.88 L499.38,563.11 L501.57,564.28 L503.76,565.39 L505.95,566.45 L508.14,567.45 L510.33,568.41 L512.52,569.32 L514.71,570.20 L516.90,571.05 L519.09,571.87 L521.28,572.67 L523.47,573.44 L525.66,574.19 L527.84,574.92 L530.03,575.63 L532.22,576.32 L534.41,576.99 L536.60,577.64 L538.79,578.27 L540.98,578.89 L543.17,579.48 L545.36,580.06 L547.55,580.63 L549.74,581.17 L551.93,581.71 L554.12,582.23 L556.30,582.74 L558.49,583.24 L560.68,583.73 L562.87,584.20 L565.06,584.67 L567.25,585.12 L569.44,585.56 L571.63,585.98 L573.82,586.38 L576.01,586.77 L578.20,587.15 L580.39,587.52 L582.57,587.88 L584.76,588.24 L586.95,588.59 L589.14,588.94 L591.33,589.29 L593.52,589.63 L595.71,589.97 L597.90,590.31 L600.09,590.65 L602.28,590.99 L604.47,591.32 L606.66,591.64 L608.85,591.96 L611.03,592.28 L613.22,592.59 L615.41,592.90 L617.60,593.19 L619.79,593.49 L621.98,593.77 L624.17,594.06 L626.36,594.33 L628.55,594.60 L630.74,594.87 L632.93,595.13 L635.12,595.39 L637.31,595.64 L639.49,595.89 L641.68,596.14 L643.87,596.38 L646.06,596.61 L648.25,596.85 L650.44,597.07 L652.63,597.30 L654.82,597.52 L657.01,597.73 L659.20,597.94 L661.39,598.15 L663.58,598.36 L665.76,598.56 L667.95,598.76 L670.14,598.96 L672.33,599.15 L674.52,599.35 L676.71,599.54 L678.90,599.73" stroke="#1ae044" stroke-dasharray="15.5 5.9"/>
<path d="M374.60,605.89 L376.79,605.89 L378.98,605.89 L381.17,605.89 L383.36,605.88 L385.55,605.86 L387.74,605.83 L389.92,605.80 L392.11,605.75 L394.30,605.70 L396.49,605.62 L398.68,605.54 L400.87,605.43 L403.06,605.31 L405.25,605.16 L407.44,605.00 L409.63,604.82 L411.82,604.61 L414.01,604.38 L416.19,604.12 L418.38,603.84 L420.57,603.54 L422.76,603.21 L424.95,602.85 L427.14,602.46 L429.33,602.05 L431.52,601.61 L433.71,601.14 L435.90,600.64 L438.09,600.11 L440.28,599.55 L442.47,598.97 L444.65,598.35 L446.84,597.71 L449.03,597.04 L451.22,596.33 L453.41,595.60 L455.60,594.84 L457.79,594.06 L459.98,593.24 L462.17,592.40 L464.36,591.53 L466.55,590.63 L468.74,589.71 L470.93,588.76 L473.11,587.78 L475.30,586.78 L477.49,585.76 L479.68,584.71 L481.87,583.64 L484.06,582.55 L486.25,581.44 L488.44,580.31 L490.63,579.16 L492.82,577.99 L495.01,576.80 L497.20,575.59 L499.38,574.37 L501.57,573.13 L503.76,571.88 L505.95,570.61 L508.14,569.32 L510.33,568.02 L512.52,566.71 L514.71,565.38 L516.90,564.04 L519.09,562.69 L521.28,561.32 L523.47,559.95 L525.66,558.56 L527.84,557.16 L530.03,555.75 L532.22,554.33 L534.41,552.90 L536.60,551.47 L538.79,550.02 L540.98,548.57 L543.17,547.11 L545.36,545.64 L547.55,544.16 L549.74,542.68 L551.93,541.19 L554.12,539.70 L556.30,538.20 L558.49,536.70 L560.68,535.19 L562.87,533.68 L565.06,532.16 L567.25,530.63 L569.44,529.11 L571.63,527.57 L573.82,526.04 L576.01,524.50 L578.20,522.95 L580.39,521.40 L582.57,519.85 L584.76,518.29 L586.95,516.74 L589.14,515.18 L591.33,513.61 L593.52,512.05 L595.71,510.49 L597.90,508.93 L600.09,507.37 L602.28,505.81 L604.47,504.25 L606.66,502.70 L608.85,501.15 L611.03,499.60 L613.22,498.06 L615.41,496.51 L617.60,494.98 L619.79,493.44 L621.98,491.91 L624.17,490.37 L626.36,488.85 L628.55,487.32 L630.74,485.79 L632.93,484.27 L635.12,482.74 L637.31,481.22 L639.49,479.70 L641.68,478.17 L643.87,476.65 L646.06,475.13 L648.25,473.60 L650.44,472.07 L652.63,470.54 L654.82,469.00 L657.01,467.46 L659.20,465.92 L661.39,464.37 L663.58,462.82 L665.76,461.25 L667.95,459.69 L670.14,458.11 L672.33,456.52 L674.52,454.93 L676.71,453.32 L678.90,451.71" stroke="#a32a32" stroke-dasharray="26.2 5.8"/>
<path d="M374.60,542.68 L376.79,542.64 L378.98,542.60 L381.17,542.55 L383.36,542.51 L385.55,542.46 L387.74,542.41 L389.92,542.36 L392.11,542.30 L394.30,542.24 L396.49,542.17 L398.68,542.10 L400.87,542.02 L403.06,541.94 L405.25,541.85 L407.44,541.75 L409.63,541.64 L411.82,541.53 L414.01,541.40 L416.19,541.28 L418.38,541.14 L420.57,541.00 L422.76,540.85 L424.95,540.69 L427.14,540.53 L429.33,540.36 L431.52,540.19 L433.71,540.00 L435.90,539.82 L438.09,539.62 L440.28,539.43 L442.47,539.22 L444.65,539.02 L446.84,538.81 L449.03,538.59 L451.22,538.37 L453.41,538.15 L455.60,537.93 L457.79,537.71 L459.98,537.48 L462.17,537.26 L464.36,537.03 L466.55,536.81 L468.74,536.58 L470.93,536.35 L473.11,536.13 L475.30,535.90 L477.49,535.66 L479.68,535.42 L481.87,535.18 L484.06,534.94 L486.25,534.69 L488.44,534.43 L490.63,534.17 L492.82,533.90 L495.01,533.63 L497.20,533.35 L499.38,533.07 L501.57,532.79 L503.76,532.51 L505.95,532.22 L508.14,531.93 L510.33,531.65 L512.52,531.36 L514.71,531.07 L516.90,530.79 L519.09,530.50 L521.28,530.22 L523.47,529.94 L525.66,529.66 L527.84,529.38 L530.03,529.10 L532.22,528.82 L534.41,528.53 L536.60,528.23 L538.79,527.93 L540.98,527.62 L543.17,527.29 L545.36,526.96 L547.55,526.61 L549.74,526.25 L551.93,525.88 L554.12,525.50 L556.30,525.11 L558.49,524.72 L560.68,524.32 L562.87,523.91 L565.06,523.50 L567.25,523.08 L569.44,522.67 L571.63,522.25 L573.82,521.83 L576.01,521.42 L578.20,521.00 L580.39,520.59 L582.57,520.17 L584.76,519.76 L586.95,519.34 L589.14,518.93 L591.33,518.52 L593.52,518.11 L595.71,517.70 L597.90,517.30 L600.09,516.89 L602.28,516.49 L604.47,516.09 L606.66,515.69 L608.85,515.29 L611.03,514.90 L613.22,514.51 L615.41,514.13 L617.60,513.74 L619.79,513.36 L621.98,512.99 L624.17,512.62 L626.36,512.25 L628.55,511.89 L630.74,511.53 L632.93,511.17 L635.12,510.82 L637.31,510.47 L639.49,510.13 L641.68,509.78 L643.87,509.44 L646.06,509.10 L648.25,508.77 L650.44,508.44 L652.63,508.10 L654.82,507.77 L657.01,507.44 L659.20,507.12 L661.39,506.79 L663.58,506.46 L665.76,506.13 L667.95,505.80 L670.14,505.47 L672.33,505.14 L674.52,504.80 L676.71,504.47 L678.90,504.14" stroke="#4a7098" stroke-width="2.4" stroke-dasharray="2 5.45"/>
</g>
<g fill="#7a3578">
<rect x="392.34" y="364.31" width="2" height="2"/>
<rect x="410.42" y="361.81" width="2" height="2"/>
<rect x="428.07" y="359.06" width="2" height="2"/>
<rect x="445.26" y="354.81" width="2" height="2"/>
<rect x="462.46" y="350.69" width="2" height="2"/>
<rect x="479.50" y="345.69" width="2" height="2"/>
<rect x="496.54" y="340.82" width="2" height="2"/>
<rect x="513.58" y="335.82" width="2" height="2"/>
<rect x="530.62" y="330.82" width="2" height="2"/>
<rect x="547.48" y="326.07" width="2" height="2"/>
<rect x="564.82" y="321.82" width="2" height="2"/>
<rect x="582.14" y="317.83" width="2" height="2"/>
<rect x="599.39" y="313.95" width="2" height="2"/>
<rect x="617.04" y="310.45" width="2" height="2"/>
<rect x="634.26" y="307.33" width="2" height="2"/>
<rect x="652.03" y="304.46" width="2" height="2"/>
<rect x="669.68" y="301.96" width="2" height="2"/>
</g>
<g id="legend">
<rect x="205.3" y="517.4" width="274.0" height="37.1" fill="none" stroke="#505050" stroke-width="1.5"/>
<g fill="none" stroke-width="1.9">
<path d="M207.3,535.4 H228.8" stroke="#e40f20"/>
<path d="M252.6,535.4 H274" stroke="#1c1cd0" stroke-dasharray="9.6 4.2 2.2 4.2"/>
<path d="M298.5,535.4 H320" stroke="#1ae044" stroke-dasharray="14.2 4.8 2.5 9"/>
<path d="M344.3,535.4 H365.5" stroke="#a32a32"/>
<path d="M434.9,535.4 H448.6" stroke="#4682b4"/>
</g>
<g fill="#a030a0">
<rect x="388.4" y="534.4" width="2" height="2"/><rect x="394.9" y="534.4" width="2" height="2"/><rect x="401.5" y="534.4" width="2" height="2"/><rect x="408.1" y="534.4" width="2" height="2"/>
</g>
<g stroke="#222" stroke-width="0.65">
<path d="M234.3,536.2 H245.5"/><path d="M279.3,536.2 H290.8"/><path d="M324.3,536.2 H339.2"/><path d="M370.7,536.2 H384.6"/>
</g>
<g class="s" fill="#1a1a1a" font-style="italic">
<text x="236.6" y="531.2" font-size="11.5">ρ</text>
<text x="235" y="548" font-size="11.5">ρ</text><text x="241.3" y="549.6" font-size="8">c</text>
<text transform="translate(280.8,532.5) scale(1.12,1)" font-size="10.4">P</text>
<text transform="translate(279.6,547.4) scale(1.08,1)" font-size="10.4">P</text><text x="286.6" y="549" font-size="7.5">c</text>
<text x="325.2" y="531" font-size="10.6">P</text><text x="332.3" y="532.6" font-size="8" font-style="normal">⊥</text>
<text x="326.6" y="546.6" font-size="10.6">P</text><text x="333.5" y="548.2" font-size="7.5">c</text>
<text transform="translate(371.6,529.6) scale(1.28,1)" font-size="12">m</text>
<text transform="translate(370.8,548.5) scale(1.15,1)" font-size="13.3">M</text>
</g>
<g class="s" fill="#1a1a1a">
<text x="413.6" y="541" font-size="15.5">e</text><text x="420.6" y="535.1" font-size="10">2</text><text transform="translate(426.3,535.1) scale(1.2,1)" font-size="10.4" font-style="italic">λ</text>
<text x="456.6" y="541" font-size="15.5">e</text><text x="463.8" y="535.1" font-size="10">2</text><text transform="translate(469.6,535.1) scale(1.3,1)" font-size="10.8" font-style="italic">ν</text>
</g>
</g>

</g></svg></body></html>
